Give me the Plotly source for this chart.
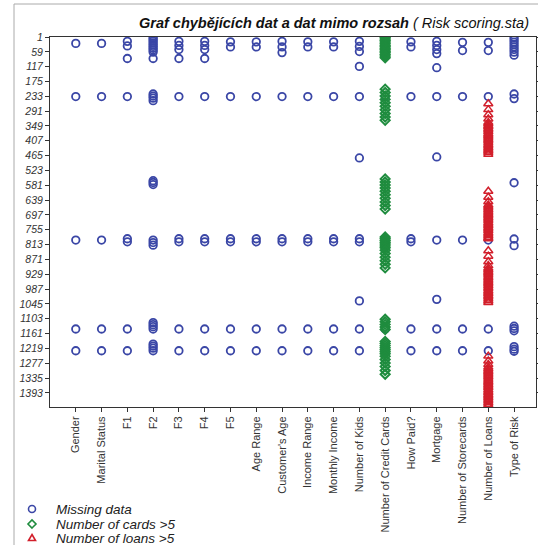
import plotly.graph_objects as go

variables = ["Gender", "Marital Status", "F1", "F2", "F3", "F4", "F5", "Age Range",
             "Customer's Age", "Income Range", "Monthly Income", "Number of Kids",
             "Number of Credit Cards", "How Paid?", "Mortgage", "Number of Storecards",
             "Number of Loans", "Type of Risk"]

y_ticks = [1, 59, 117, 175, 233, 291, 349, 407, 465, 523, 581, 639, 697, 755, 813,
           871, 929, 987, 1045, 1103, 1161, 1219, 1277, 1335, 1393]

legend_labels = ["Missing data", "Number of cards >5", "Number of loans >5"]

# rows with missing data, per variable
miss_gender = [26, 234, 795, 1143, 1228]
miss_marital = [26, 234, 795, 1143, 1228]
miss_f1 = [18, 36, 85, 234, 790, 802, 1143, 1228]
miss_f2 = [3, 10, 17, 24, 31, 38, 45, 52, 60, 85, 224, 232, 240, 250, 563, 570, 578,
           795, 805, 815, 1118, 1126, 1134, 1143, 1202, 1210, 1218, 1228]
miss_f3 = [18, 34, 50, 85, 234, 790, 802, 1143, 1228]
miss_f4 = [18, 34, 50, 85, 234, 790, 802, 1143, 1228]
miss_f5 = [20, 40, 234, 790, 802, 1143, 1228]
miss_age_range = [20, 40, 234, 790, 802, 1143, 1228]
miss_customers_age = [18, 40, 62, 234, 790, 802, 1143, 1228]
miss_income_range = [20, 40, 234, 790, 802, 1143, 1228]
miss_monthly_income = [20, 40, 234, 790, 802, 1143, 1228]
miss_num_kids = [18, 38, 58, 116, 234, 474, 790, 802, 1033, 1143, 1228]
miss_credit_cards = [10, 234, 795, 1143, 1228]
miss_how_paid = [20, 40, 234, 790, 802, 1143, 1228]
miss_mortgage = [18, 34, 50, 66, 121, 234, 470, 795, 1027, 1143, 1228]
miss_storecards = [22, 54, 234, 795, 1143, 1228]
miss_loans = [22, 54, 234, 795, 1143, 1228]
miss_type_risk = [3, 12, 21, 30, 40, 50, 60, 72, 224, 242, 571, 791, 817,
                  1132, 1141, 1150, 1212, 1222, 1230]

# out of range: Number of Credit Cards > 5
cards_rows = [3, 9, 15, 21, 27, 33, 39, 45, 51, 57, 63, 69, 75, 82,
              205, 218, 232, 245, 258, 272, 286, 300, 314, 327,
              556, 568, 580, 592, 604, 618, 632, 646, 660, 674,
              783, 790, 797, 804, 811, 818, 825, 835, 848, 862, 876, 890, 904,
              1105, 1115, 1125, 1135, 1145,
              1192, 1200, 1208, 1216, 1224, 1232, 1240, 1250, 1262, 1276, 1290, 1305, 1320]

# out of range: Number of Loans > 5
loans_rows = [262, 285, 305, 322, 335, 341, 348, 353, 360, 366, 372, 379, 385, 390, 397,
              403, 409, 416, 422, 428, 435, 441, 447, 453, 460,
              604, 628, 645, 658, 664, 671, 677, 683, 690, 696, 702, 709, 715, 721, 728,
              734, 740, 747, 753, 759, 766, 772, 778, 785, 790,
              837, 858, 880, 895, 905, 911, 918, 924, 930, 937, 943, 949, 956, 962, 968,
              975, 981, 987, 994, 1000, 1006, 1013, 1019, 1026, 1032, 1039,
              1249, 1268, 1282, 1292, 1298, 1305, 1311, 1317, 1324, 1330, 1336, 1343, 1349,
              1355, 1362, 1368, 1374, 1381, 1387, 1393, 1400, 1406, 1412, 1419, 1425, 1431,
              1438, 1444]

missing_lists = [miss_gender, miss_marital, miss_f1, miss_f2, miss_f3, miss_f4, miss_f5,
                 miss_age_range, miss_customers_age, miss_income_range, miss_monthly_income,
                 miss_num_kids, miss_credit_cards, miss_how_paid, miss_mortgage,
                 miss_storecards, miss_loans, miss_type_risk]

BLUE = "#3a46a6"
GREEN = "#1f8c3e"
RED = "#d21f2b"
FONT = "Liberation Sans, Arial, sans-serif"

mx, my = [], []
for i, rows in enumerate(missing_lists):
    mx += [i + 1] * len(rows)
    my += rows

cards_x = variables.index("Number of Credit Cards") + 1
loans_x = variables.index("Number of Loans") + 1

fig = go.Figure()
fig.add_trace(go.Scatter(x=mx, y=my, mode="markers", name=legend_labels[0],
                         marker=dict(symbol="circle-open", size=7.5, color=BLUE,
                                     line=dict(width=1.8, color=BLUE))))
fig.add_trace(go.Scatter(x=[cards_x] * len(cards_rows), y=cards_rows, mode="markers",
                         name=legend_labels[1],
                         marker=dict(symbol="diamond-open", size=7, color=GREEN,
                                     line=dict(width=2, color=GREEN))))
fig.add_trace(go.Scatter(x=[loans_x] * len(loans_rows), y=loans_rows, mode="markers",
                         name=legend_labels[2],
                         marker=dict(symbol="triangle-up-open", size=8, color=RED,
                                     line=dict(width=1.5, color=RED))))

W, H = 538, 545
L, R, T, B = 50, 2, 37, 138
pw, ph = W - L - R, H - T - B


def px_x(p):
    return (p - L) / pw


def px_y(p):
    return 1 - (p - T) / ph


# custom legend (symbols as shapes, labels as annotations)
leg_rows = [509, 524, 538]
leg_colors = [BLUE, GREEN, RED]
sym_x = 32
shapes = [dict(type="rect", xref="paper", yref="paper",
               x0=px_x(14), x1=1.2, y0=-1, y1=px_y(4),
               line=dict(color="#aaaaaa", width=1), layer="below")]
annotations = [dict(text="<b><i>Graf chybějících dat a dat mimo rozsah</i></b><i> ( Risk scoring.sta)</i>",
                    xref="paper", yref="paper", x=px_x(531), y=px_y(23),
                    xanchor="right", yanchor="middle", showarrow=False,
                    font=dict(family=FONT, size=14.5, color="#111111"))]
leg_shapes = [dict(type="circle", x0=-3.5, x1=3.5, y0=-3.5, y1=3.5),
              dict(type="path", path="M0,-4 L4,0 L0,4 L-4,0 Z"),
              dict(type="path", path="M0,3.5 L3.5,-2.5 L-3.5,-2.5 Z")]
for ry, col, shp, lab in zip(leg_rows, leg_colors, leg_shapes, legend_labels):
    s = dict(xref="paper", yref="paper", xsizemode="pixel", ysizemode="pixel",
             xanchor=px_x(sym_x), yanchor=px_y(ry), line=dict(color=col, width=1.6))
    s.update(shp)
    shapes.append(s)
    annotations.append(dict(text="<i>" + lab + "</i>", xref="paper", yref="paper",
                            x=px_x(54), y=px_y(ry), xanchor="left", yanchor="middle",
                            showarrow=False,
                            font=dict(family=FONT, size=13.5, color="#222222")))

fig.update_layout(
    width=W, height=H,
    margin=dict(l=L, r=R, t=T, b=B, autoexpand=False),
    paper_bgcolor="white", plot_bgcolor="white",
    font=dict(family=FONT, size=10, color="#333333"),
    showlegend=False,
    shapes=shapes,
    annotations=annotations,
)

fig.update_xaxes(range=[0, 18.85], tickmode="array",
                 tickvals=list(range(1, len(variables) + 1)), ticktext=variables,
                 tickangle=-90, ticks="outside", ticklen=4, tickcolor="#333",
                 showline=True, linecolor="#333", linewidth=1, mirror=True,
                 showgrid=False, zeroline=False, automargin=False,
                 tickfont=dict(family=FONT, size=11, color="#333333"))
fig.update_yaxes(range=[1448, 1], tickmode="array", tickvals=y_ticks,
                 ticktext=[str(v) for v in y_ticks],
                 ticks="outside", ticklen=4, tickcolor="#333",
                 showline=True, linecolor="#333", linewidth=1, mirror="ticks",
                 showgrid=False, zeroline=False, automargin=False,
                 tickfont=dict(family=FONT, size=10.5, color="#333333", style="italic"))

fig.write_html("out.html", config={"displayModeBar": False},
               post_script="document.body.style.margin='0px';document.body.style.overflow='hidden';")
